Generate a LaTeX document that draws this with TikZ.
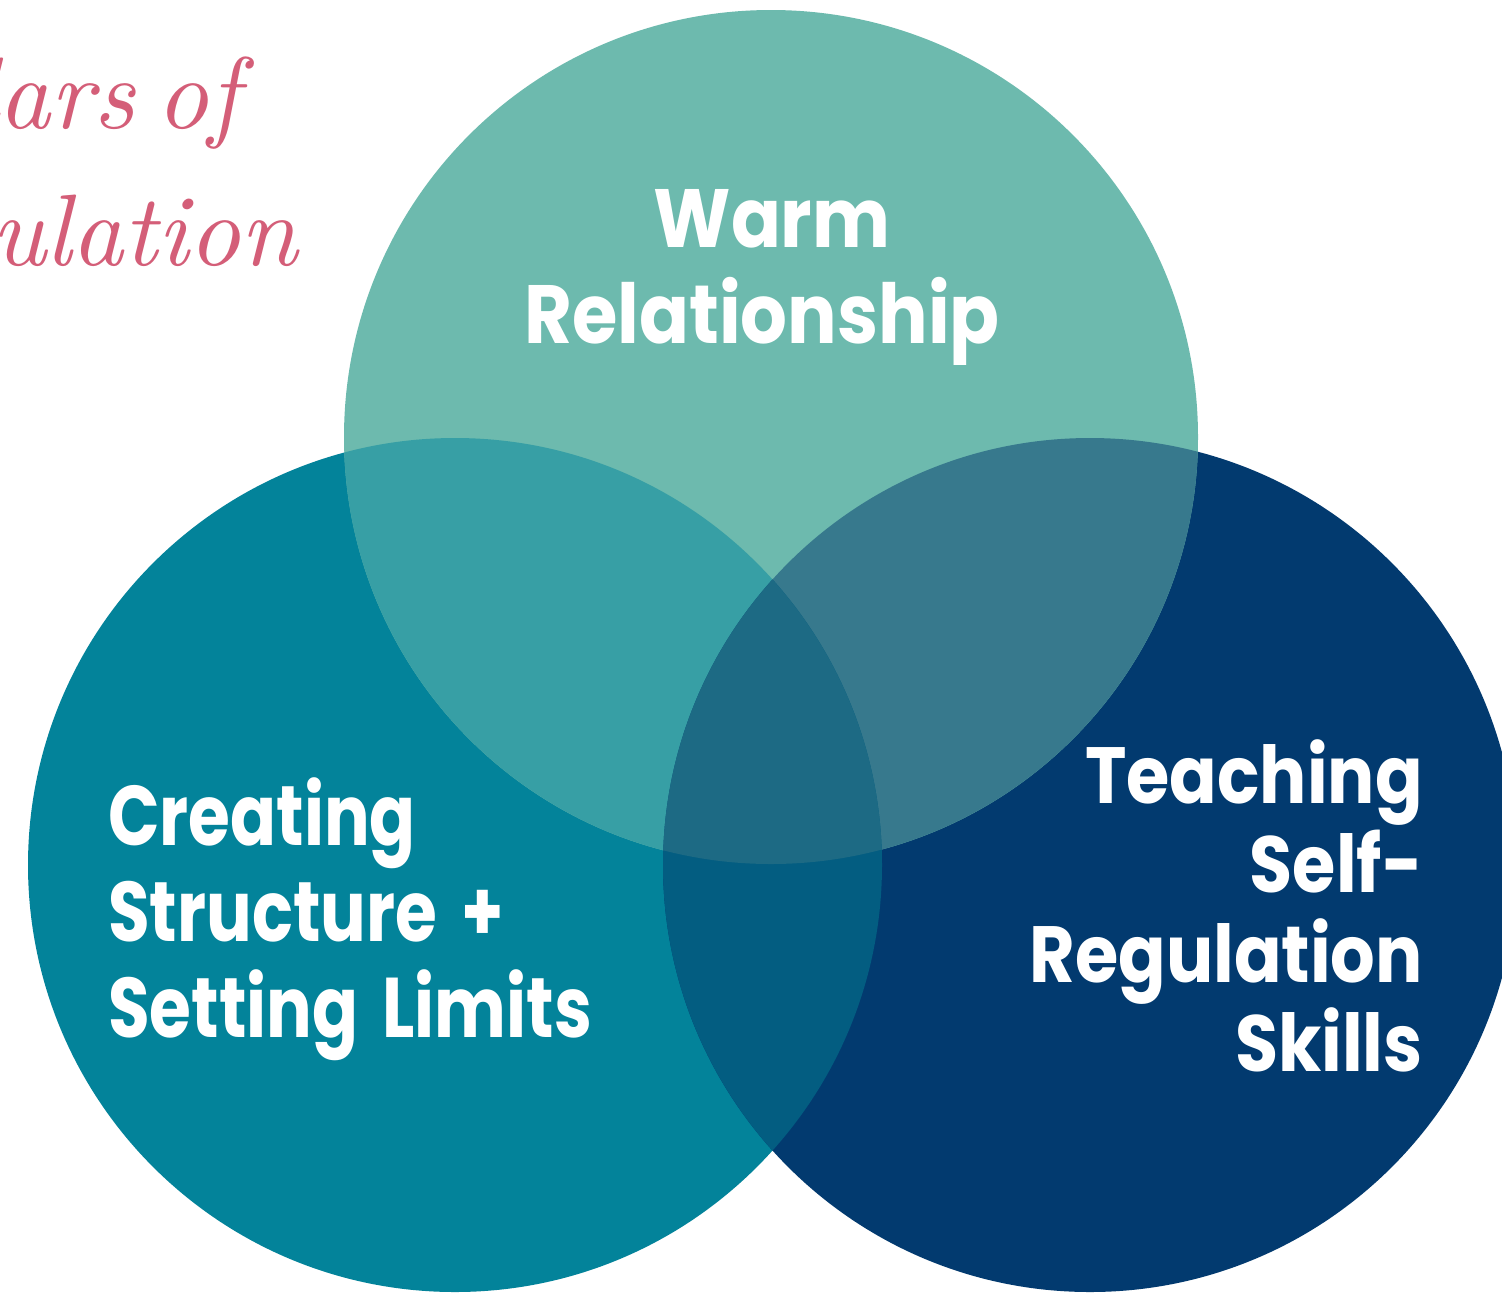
\documentclass[tikz,border=0pt]{standalone}
\usepackage{fontspec}
\newfontfamily\topfont{Poppins}[BoldFont={* Bold}, FakeStretch=0.89]
\newfontfamily\leftfont{Poppins}[BoldFont={* Bold}, FakeStretch=0.80, WordSpace=1.7]
\newfontfamily\rightfont{Poppins}[BoldFont={* Bold}, FakeStretch=0.88]
\newfontfamily\titlefont{lmroman10-italic.otf}[WordSpace=0.6]
\definecolor{topc}{HTML}{6DBAAE}
\definecolor{leftc}{HTML}{03839A}
\definecolor{rightc}{HTML}{023A6F}
\definecolor{tlc}{HTML}{379FA5}
\definecolor{trc}{HTML}{37798D}
\definecolor{lrc}{HTML}{035D81}
\definecolor{midc}{HTML}{1D6A84}
\definecolor{titlec}{HTML}{D45E78}
\tikzset{
  tlbl/.style={text=white, inner sep=0pt, font=\topfont\bfseries\fontsize{83}{96}\selectfont},
  llbl/.style={text=white, inner sep=0pt, font=\leftfont\bfseries\fontsize{85}{96}\selectfont},
  rlbl/.style={text=white, inner sep=0pt, font=\rightfont\bfseries\fontsize{80}{90}\selectfont},
  ttl/.style={text=titlec, inner sep=0pt, font=\titlefont\fontsize{102}{120}\selectfont}
}
\begin{document}
\begin{tikzpicture}[x=1bp,y=-1bp]
\useasboundingbox (0,0) rectangle (1502,1293);
\clip (0,0) rectangle (1502,1293);
\fill[white] (0,0) rectangle (1502,1293);
% the three circles
\coordinate (T) at (771,437);
\coordinate (L) at (455,865);
\coordinate (R) at (1090,865);
\def\rad{427}
\fill[leftc] (L) circle[radius=\rad];
\fill[rightc] (R) circle[radius=\rad];
\fill[topc] (T) circle[radius=\rad];
% pairwise overlaps
\begin{scope}
  \clip (T) circle[radius=\rad];
  \fill[tlc] (L) circle[radius=\rad];
  \fill[trc] (R) circle[radius=\rad];
\end{scope}
\begin{scope}
  \clip (L) circle[radius=\rad];
  \fill[lrc] (R) circle[radius=\rad];
  \clip (R) circle[radius=\rad];
  \fill[midc] (T) circle[radius=\rad];
\end{scope}
% title, running off the left edge
\node[ttl, anchor=base east] (title1) at (240,128) {Pillars of};
\node[ttl, anchor=base east] (title2) at (298,265) {Regulation};
% labels
\node[tlbl, anchor=base] (w1) at (772,247) {Warm};
\node[tlbl, anchor=base] (w2) at (762,343) {Relationship};
\node[llbl, anchor=base west] (c1) at (108,845) {Creating};
\node[llbl, anchor=base west] (c2) at (108,941) {Structure +};
\node[llbl, anchor=base west] (c3) at (108,1037) {Setting Limits};
\node[rlbl, anchor=base east] (s1) at (1423,803) {Teaching};
\node[rlbl, anchor=base east] (s2) at (1423,892) {Self-};
\node[rlbl, anchor=base east] (s3) at (1423,982) {Regulation};
\node[rlbl, anchor=base east] (s4) at (1423,1071) {Skills};
\end{tikzpicture}
\end{document}
